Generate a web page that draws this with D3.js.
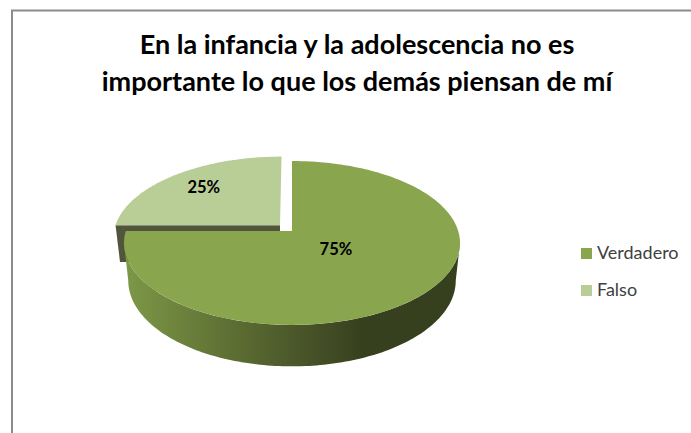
<!DOCTYPE html>
<html><head><meta charset="utf-8">
<script src="https://cdnjs.cloudflare.com/ajax/libs/d3/7.8.5/d3.min.js"></script>
<style>html,body{margin:0;padding:0;background:#fff}svg{display:block}text{font-family:Lato,"Open Sans",sans-serif}</style>
</head><body><svg id="c" width="691" height="433"></svg>
<script>
const categories = ["Verdadero", "Falso"];
const values = [75, 25];
const labels = ["75%", "25%"];
const titleLines = ["En la infancia y la adolescencia no es", "importante lo que los demás piensan de mí"];
const topColors = ["#89a54e", "#b9cd96"];

const svg = d3.select("#c");
svg.append("path").attr("d", "M691,10.5 H12 V433").attr("fill", "none").attr("stroke", "#8c8c8c").attr("stroke-width", 2);

svg.selectAll("text.title").data(titleLines).join("text").attr("class", "title")
  .attr("x", 357).attr("y", (d, i) => 54 + i * 37).attr("text-anchor", "middle")
  .attr("font-size", 27).attr("font-weight", 700).attr("fill", "#000").text(d => d);

const slices = d3.pie().sort(null).value(d => d)(values);

const K = 0.146, X0 = 292;
const topPlane = { rx: 166.2, ry: 80.2, y0: 231 };
const lowPlane = { rx: 162, ry: 84, y0: 268 };
const project = (plane, s, c) => {
  const w = 1 + K * c;
  return [X0 + plane.rx * s / w, plane.y0 - plane.ry * c / w];
};
const arcPts = (plane, a0, a1, dx = 0, dy = 0) => {
  const n = Math.max(2, Math.ceil(Math.abs(a1 - a0) / 0.02));
  return d3.range(n + 1).map(i => {
    const a = a0 + (a1 - a0) * i / n;
    return project(plane, Math.sin(a) + dx, Math.cos(a) + dy);
  });
};
const line = d3.line().curve(d3.curveLinear);

const defs = svg.append("defs");
const grad = defs.append("linearGradient").attr("id", "wall").attr("gradientUnits", "userSpaceOnUse")
  .attr("x1", 125).attr("x2", 460).attr("y1", 0).attr("y2", 0);
[[0, "#7d9847"], [0.3, "#5f7134"], [0.55, "#475228"], [0.71, "#37401e"], [1, "#37401e"]]
  .forEach(([o, c]) => grad.append("stop").attr("offset", o).attr("stop-color", c));

const main = slices[0], minor = slices[1];
const expl = 0.073;

// Exploded slice (Falso): cut face, then top surface
const ex = -expl, ey = expl;
const facePts = [
  project(topPlane, ex, ey), project(topPlane, ex - 1, ey),
  project(lowPlane, ex - 1, ey), project(lowPlane, ex, ey)
];
svg.append("path").attr("d", line(facePts) + "Z").attr("fill", "#50553b");
svg.append("path")
  .attr("d", line([project(topPlane, ex, ey), ...arcPts(topPlane, minor.startAngle, minor.endAngle, ex, ey)]) + "Z")
  .attr("fill", topColors[1]);

// Main slice: side wall, then top surface
const aR = Math.PI - Math.acos(K), aL = Math.PI + Math.acos(K);
const wallPts = [...arcPts(topPlane, aR, aL), ...arcPts(lowPlane, aL, aR)];
svg.append("path").attr("d", line(wallPts) + "Z").attr("fill", "url(#wall)");
svg.append("path")
  .attr("d", line([project(topPlane, 0, 0), ...arcPts(topPlane, main.startAngle, main.endAngle)]) + "Z")
  .attr("fill", topColors[0]);

// Data labels
const labelPos = i => {
  const a = (slices[i].startAngle + slices[i].endAngle) / 2;
  return i === 0
    ? project(topPlane, 0.36 * Math.sin(a), 0.36 * Math.cos(a))
    : project(topPlane, 0.71 * Math.sin(a) + ex, 0.71 * Math.cos(a) + ey);
};
svg.selectAll("text.lab").data(labels).join("text").attr("class", "lab")
  .attr("x", (d, i) => labelPos(i)[0]).attr("y", (d, i) => labelPos(i)[1] + (i === 0 ? 3 : 5))
  .attr("text-anchor", "middle").attr("font-size", 16.5).attr("font-weight", 700).attr("fill", "#000").text(d => d);

// Legend
const ly = d3.scalePoint().domain(categories).range([253.5, 290.5]);
svg.selectAll("rect.leg").data(categories).join("rect").attr("class", "leg")
  .attr("x", 581).attr("y", d => ly(d) - 5.5).attr("width", 11).attr("height", 11)
  .attr("fill", (d, i) => topColors[i]);
svg.selectAll("text.leg").data(categories).join("text").attr("class", "leg")
  .attr("x", 597).attr("y", d => ly(d) + 5.5).attr("font-size", 18).attr("fill", "#404040").text(d => d);
</script></body></html>
